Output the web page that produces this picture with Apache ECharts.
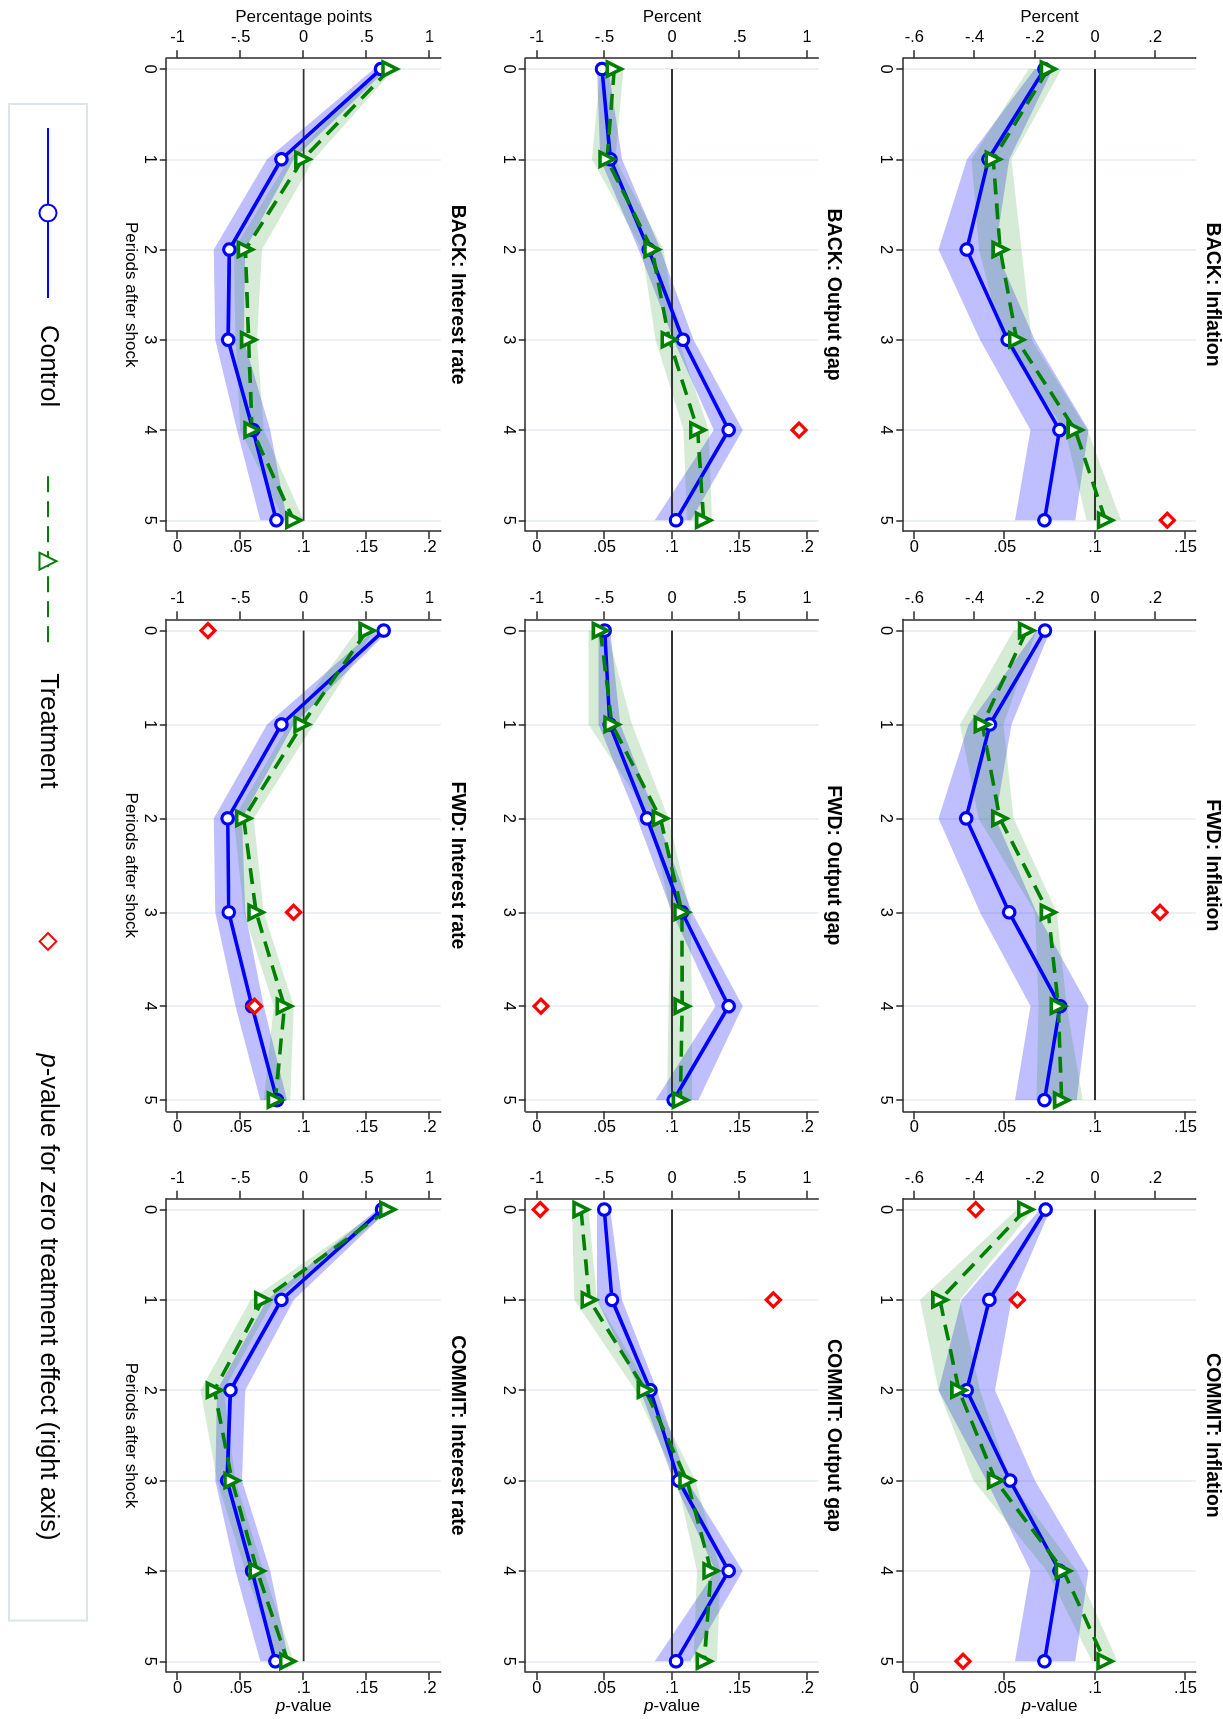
<!DOCTYPE html>
<html>
<head>
<meta charset="utf-8">
<script src="https://cdn.jsdelivr.net/npm/echarts@6/dist/echarts.min.js"></script>
<style>
html,body{margin:0;padding:0;background:#fff;overflow:hidden;width:1223px;height:1719px;}
#wrap{position:absolute;left:0;top:0;width:1719px;height:1223px;transform-origin:0 0;transform:translate(1223px,0) rotate(90deg);background:#fff;}
</style>
</head>
<body>
<div id="wrap"></div>
<script>
// ---------------- DATA ----------------
const periods = [0, 1, 2, 3, 4, 5];
const periodTicks = [0, 1, 2, 3, 4, 5];
const inflTicks = [-0.6, -0.4, -0.2, 0, 0.2];
const inflPTicks = [0, 0.05, 0.1, 0.15];
const wideTicks = [-1, -0.5, 0, 0.5, 1];
const widePTicks = [0, 0.05, 0.1, 0.15, 0.2];
const regimes = ['BACK', 'FWD', 'COMMIT'];
const variables = ['Inflation', 'Output gap', 'Interest rate'];
const seriesNames = ['Control', 'Treatment', 'p-value for zero treatment effect (right axis)'];

// BACK: Inflation
const backInflCtrl    = [-0.168, -0.354, -0.426, -0.290, -0.118, -0.168];
const backInflCtrlLo  = [-0.200, -0.425, -0.520, -0.382, -0.214, -0.266];
const backInflCtrlHi  = [-0.140, -0.285, -0.330, -0.200, -0.022, -0.066];
const backInflTreat   = [-0.155, -0.338, -0.315, -0.260, -0.066, 0.035];
const backInflTreatLo = [-0.221, -0.410, -0.385, -0.310, -0.100, -0.028];
const backInflTreatHi = [-0.111, -0.277, -0.244, -0.210, -0.025, 0.086];
const backInflPval    = [null, null, null, null, null, 0.140];
// BACK: Output gap
const backOutCtrl     = [-0.518, -0.456, -0.173, 0.081, 0.419, 0.030];
const backOutCtrlLo   = [-0.555, -0.530, -0.247, 0.012, 0.308, -0.128];
const backOutCtrlHi   = [-0.469, -0.370, -0.086, 0.160, 0.523, 0.141];
const backOutTreat    = [-0.427, -0.481, -0.148, -0.020, 0.190, 0.234];
const backOutTreatLo  = [-0.530, -0.592, -0.222, -0.123, 0.086, 0.111];
const backOutTreatHi  = [-0.358, -0.419, -0.062, 0.049, 0.271, 0.296];
const backOutPval     = [null, null, null, null, 0.194, null];
// BACK: Interest rate
const backIntCtrl     = [0.614, -0.177, -0.590, -0.600, -0.402, -0.217];
const backIntCtrlLo   = [0.556, -0.291, -0.714, -0.701, -0.529, -0.344];
const backIntCtrlHi   = [0.661, -0.079, -0.463, -0.476, -0.265, -0.132];
const backIntTreat    = [0.685, -0.008, -0.463, -0.437, -0.410, -0.079];
const backIntTreatLo  = [0.600, -0.119, -0.556, -0.542, -0.503, -0.159];
const backIntTreatHi  = [0.720, 0.079, -0.331, -0.370, -0.317, 0.000];
const backIntPval     = [null, null, null, null, null, null];
// FWD: Inflation
const fwdInflCtrl     = [-0.166, -0.349, -0.428, -0.285, -0.116, -0.168];
const fwdInflCtrlLo   = [-0.194, -0.420, -0.520, -0.382, -0.214, -0.266];
const fwdInflCtrlHi   = [-0.149, -0.277, -0.330, -0.194, -0.022, -0.061];
const fwdInflTreat    = [-0.227, -0.374, -0.316, -0.155, -0.122, -0.111];
const fwdInflTreatLo  = [-0.271, -0.448, -0.387, -0.199, -0.188, -0.194];
const fwdInflTreatHi  = [-0.194, -0.304, -0.271, -0.127, -0.094, -0.041];
const fwdInflPval     = [null, null, null, 0.136, null, null];
// FWD: Output gap
const fwdOutCtrl      = [-0.498, -0.461, -0.185, 0.074, 0.419, 0.012];
const fwdOutCtrlLo    = [-0.543, -0.543, -0.259, 0.000, 0.321, -0.123];
const fwdOutCtrlHi    = [-0.456, -0.382, -0.111, 0.148, 0.523, 0.197];
const fwdOutTreat     = [-0.530, -0.444, -0.086, 0.074, 0.075, 0.062];
const fwdOutTreatLo   = [-0.617, -0.617, -0.160, -0.012, -0.025, -0.037];
const fwdOutTreatHi   = [-0.481, -0.296, -0.025, 0.136, 0.148, 0.148];
const fwdOutPval      = [null, null, null, null, 0.003, null];
// FWD: Interest rate
const fwdIntCtrl      = [0.635, -0.177, -0.603, -0.595, -0.410, -0.212];
const fwdIntCtrlLo    = [0.556, -0.291, -0.714, -0.701, -0.542, -0.344];
const fwdIntCtrlHi    = [0.675, -0.079, -0.489, -0.463, -0.317, -0.132];
const fwdIntTreat     = [0.503, -0.013, -0.476, -0.378, -0.153, -0.225];
const fwdIntTreatLo   = [0.423, -0.119, -0.556, -0.476, -0.238, -0.317];
const fwdIntTreatHi   = [0.556, 0.079, -0.397, -0.317, -0.079, -0.106];
const fwdIntPval      = [0.024, null, null, 0.092, 0.061, null];
// COMMIT: Inflation
const comInflCtrl     = [-0.164, -0.351, -0.426, -0.282, -0.118, -0.168];
const comInflCtrlLo   = [-0.183, -0.443, -0.520, -0.360, -0.214, -0.266];
const comInflCtrlHi   = [-0.149, -0.277, -0.332, -0.199, -0.022, -0.066];
const comInflTreat    = [-0.230, -0.515, -0.452, -0.330, -0.105, 0.033];
const comInflTreatLo  = [-0.260, -0.581, -0.520, -0.404, -0.160, -0.011];
const comInflTreatHi  = [-0.205, -0.448, -0.382, -0.282, -0.060, 0.075];
const comInflPval     = [0.034, 0.057, null, null, null, 0.027];
// COMMIT: Output gap
const comOutCtrl      = [-0.501, -0.444, -0.160, 0.049, 0.419, 0.030];
const comOutCtrlLo    = [-0.555, -0.555, -0.234, 0.012, 0.321, -0.128];
const comOutCtrlHi    = [-0.456, -0.370, -0.111, 0.111, 0.523, 0.136];
const comOutTreat     = [-0.673, -0.612, -0.197, 0.111, 0.289, 0.239];
const comOutTreatLo   = [-0.740, -0.723, -0.271, 0.037, 0.185, 0.160];
const comOutTreatHi   = [-0.617, -0.555, -0.160, 0.173, 0.358, 0.333];
const comOutPval      = [0.0025, 0.175, null, null, null, null];
// COMMIT: Interest rate
const comIntCtrl      = [0.622, -0.177, -0.582, -0.608, -0.410, -0.225];
const comIntCtrlLo    = [0.582, -0.291, -0.688, -0.701, -0.542, -0.344];
const comIntCtrlHi    = [0.675, -0.079, -0.463, -0.489, -0.265, -0.119];
const comIntTreat     = [0.667, -0.325, -0.709, -0.569, -0.370, -0.127];
const comIntTreatLo   = [0.608, -0.423, -0.820, -0.688, -0.463, -0.212];
const comIntTreatHi   = [0.701, -0.238, -0.635, -0.542, -0.317, -0.079];
const comIntPval      = [null, null, null, null, null, null];

// ---------------- LAYOUT / STYLE ----------------
const FONT = 'Liberation Sans, Arial, Helvetica, sans-serif';
const colLeft = [58.2, 619.3, 1198.7];
const colWidth = [472.9, 492.1, 473.4];
const rowTop = [27.3, 404.7, 782.3];
const rowHeight = [292.4, 292.6, 274];
const titleY = [11, 390, 766];
const BLUE = '#0000FF', GREEN = '#008000', RED = '#FF0000';
const AXIS_COLOR = '#2b2b2b';

const varSpec = [
  { vmin: -0.6365, vmax: 0.3343, ticks: inflTicks, pTicks: inflPTicks, toP: v => (v + 0.6) / 6, unit: 'Percent' },
  { vmin: -1.0825, vmax: 1.0825, ticks: wideTicks, pTicks: widePTicks, toP: v => (v + 1) / 10, unit: 'Percent' },
  { vmin: -1.0873, vmax: 1.0873, ticks: wideTicks, pTicks: widePTicks, toP: v => (v + 1) / 10, unit: 'Percentage points' }
];

const panelData = [
  [
    { c: backInflCtrl, cl: backInflCtrlLo, ch: backInflCtrlHi, t: backInflTreat, tl: backInflTreatLo, th: backInflTreatHi, p: backInflPval },
    { c: fwdInflCtrl, cl: fwdInflCtrlLo, ch: fwdInflCtrlHi, t: fwdInflTreat, tl: fwdInflTreatLo, th: fwdInflTreatHi, p: fwdInflPval },
    { c: comInflCtrl, cl: comInflCtrlLo, ch: comInflCtrlHi, t: comInflTreat, tl: comInflTreatLo, th: comInflTreatHi, p: comInflPval }
  ],
  [
    { c: backOutCtrl, cl: backOutCtrlLo, ch: backOutCtrlHi, t: backOutTreat, tl: backOutTreatLo, th: backOutTreatHi, p: backOutPval },
    { c: fwdOutCtrl, cl: fwdOutCtrlLo, ch: fwdOutCtrlHi, t: fwdOutTreat, tl: fwdOutTreatLo, th: fwdOutTreatHi, p: fwdOutPval },
    { c: comOutCtrl, cl: comOutCtrlLo, ch: comOutCtrlHi, t: comOutTreat, tl: comOutTreatLo, th: comOutTreatHi, p: comOutPval }
  ],
  [
    { c: backIntCtrl, cl: backIntCtrlLo, ch: backIntCtrlHi, t: backIntTreat, tl: backIntTreatLo, th: backIntTreatHi, p: backIntPval },
    { c: fwdIntCtrl, cl: fwdIntCtrlLo, ch: fwdIntCtrlHi, t: fwdIntTreat, tl: fwdIntTreatLo, th: fwdIntTreatHi, p: fwdIntPval },
    { c: comIntCtrl, cl: comIntCtrlLo, ch: comIntCtrlHi, t: comIntTreat, tl: comIntTreatLo, th: comIntTreatHi, p: comIntPval }
  ]
];

function stataFmt(v) {
  const r = Math.round(v * 1000) / 1000;
  if (r === 0) return '0';
  return String(r).replace(/^(-?)0\./, '$1.');
}

function bandSeries(gi, yIdx, lo, hi, color) {
  return {
    type: 'custom', xAxisIndex: gi, yAxisIndex: yIdx, silent: true,
    data: periods.map((t, k) => [t, lo[k], hi[k]]),
    encode: { x: 0, y: [1, 2] },
    renderItem: (params, api) => {
      if (params.dataIndex !== 0) return null;
      const upper = periods.map((t, k) => api.coord([t, hi[k]]));
      const lower = periods.map((t, k) => api.coord([t, lo[k]])).reverse();
      return { type: 'polygon', shape: { points: upper.concat(lower) }, style: { fill: color, stroke: null } };
    }
  };
}

const grids = [], xAxes = [], yAxes = [], series = [], titles = [];
const axisLineStyle = { color: AXIS_COLOR, width: 1.5 };
let gi = 0;
for (let r = 0; r < 3; r++) {
  for (let c = 0; c < 3; c++) {
    const spec = varSpec[r];
    const d = panelData[r][c];
    grids.push({ left: colLeft[c], top: rowTop[r], width: colWidth[c], height: rowHeight[r] });
    titles.push({
      text: regimes[c] + ': ' + variables[r],
      left: colLeft[c] + colWidth[c] / 2, top: titleY[r],
      textAlign: 'center', textVerticalAlign: 'middle', padding: 0,
      textStyle: { fontSize: 19.5, fontWeight: 'bold', color: '#000', fontFamily: FONT }
    });
    xAxes.push({
      gridIndex: gi, type: 'value', position: 'bottom', min: -0.12, max: 5.12,
      axisLine: { show: true, onZero: false, lineStyle: axisLineStyle },
      axisTick: { show: true, customValues: periodTicks, length: 7, lineStyle: axisLineStyle },
      axisLabel: { customValues: periodTicks, margin: 9, fontSize: 16.5, color: '#000', fontFamily: FONT, formatter: v => String(v) },
      splitLine: { show: true, lineStyle: { color: '#E6EEF0', width: 1.5 } },
      name: r === 2 ? 'Periods after shock' : '', nameLocation: 'middle', nameGap: 28,
      nameTextStyle: { fontSize: 17, color: '#000', fontFamily: FONT }
    });
    yAxes.push({
      gridIndex: gi, type: 'value', position: 'left', min: spec.vmin, max: spec.vmax,
      axisLine: { show: true, onZero: false, lineStyle: axisLineStyle },
      axisTick: { show: true, customValues: spec.ticks, length: 8, lineStyle: axisLineStyle },
      axisLabel: { customValues: spec.ticks, rotate: 90, margin: 12, fontSize: 16.5, color: '#000', fontFamily: FONT, formatter: stataFmt },
      splitLine: { show: false },
      name: c === 0 ? spec.unit : '', nameLocation: 'middle', nameRotate: 90, nameGap: 32,
      nameTextStyle: { fontSize: 17, color: '#000', fontFamily: FONT }
    });
    yAxes.push({
      gridIndex: gi, type: 'value', position: 'right', min: spec.toP(spec.vmin), max: spec.toP(spec.vmax),
      axisLine: { show: true, onZero: false, lineStyle: axisLineStyle },
      axisTick: { show: true, customValues: spec.pTicks, length: 8, lineStyle: axisLineStyle },
      axisLabel: { customValues: spec.pTicks, rotate: 90, margin: 8, fontSize: 16.5, color: '#000', fontFamily: FONT, formatter: stataFmt },
      splitLine: { show: false },
      name: c === 2 ? '{i|p}-value' : '', nameLocation: 'middle', nameRotate: 90, nameGap: 26,
      nameTextStyle: { fontSize: 17, color: '#000', fontFamily: FONT,
        rich: { i: { fontStyle: 'italic', fontSize: 17, color: '#000', fontFamily: FONT } } }
    });
    const yL = 2 * gi, yR = 2 * gi + 1;
    // zero reference line across the plotted periods
    series.push({
      type: 'line', xAxisIndex: gi, yAxisIndex: yL, silent: true, symbol: 'none',
      data: [[periods[0], 0], [periods[periods.length - 1], 0]],
      lineStyle: { color: '#333', width: 1.8 }, itemStyle: { color: '#333' }
    });
    series.push(bandSeries(gi, yL, d.cl, d.ch, 'rgba(0,0,255,0.25)'));
    series.push({
      name: 'Control', type: 'line', xAxisIndex: gi, yAxisIndex: yL,
      data: periods.map((t, k) => [t, d.c[k]]),
      symbol: 'circle', symbolSize: 11.5,
      lineStyle: { color: BLUE, width: 3.6 },
      itemStyle: { color: '#fff', borderColor: BLUE, borderWidth: 3.2 },
      emphasis: { disabled: true }
    });
    series.push(bandSeries(gi, yL, d.tl, d.th, 'rgba(0,128,0,0.16)'));
    series.push({
      name: 'Treatment', type: 'line', xAxisIndex: gi, yAxisIndex: yL,
      data: periods.map((t, k) => [t, d.t[k]]),
      symbol: 'triangle', symbolSize: 14,
      lineStyle: { color: GREEN, width: 3.6, type: [16, 9] },
      itemStyle: { color: '#fff', borderColor: GREEN, borderWidth: 3.6 },
      emphasis: { disabled: true }
    });
    series.push({
      name: seriesNames[2], type: 'line', xAxisIndex: gi, yAxisIndex: yR,
      data: periods.map((t, k) => d.p[k] == null ? null : [t, d.p[k]]).filter(x => x),
      symbol: 'diamond', symbolSize: 14, showAllSymbol: true,
      lineStyle: { width: 0, opacity: 0 },
      itemStyle: { color: '#fff', borderColor: RED, borderWidth: 3.2 },
      emphasis: { disabled: true }
    });
    gi++;
  }
}

const chart = echarts.init(document.getElementById('wrap'), null, { renderer: 'canvas' });
chart.setOption({
  animation: false,
  backgroundColor: '#fff',
  title: titles,
  grid: grids,
  xAxis: xAxes,
  yAxis: yAxes,
  legend: {
    data: seriesNames, selectedMode: false,
    left: 104, top: 1136, orient: 'horizontal',
    itemWidth: 170, itemHeight: 21, itemGap: 68,
    padding: [26, 80, 26, 23],
    borderColor: '#DCE6EA', borderWidth: 2, backgroundColor: '#fff',
    formatter: name => name.indexOf('p-value') === 0 ? '{i|p}' + name.slice(1) : name,
    textStyle: {
      fontSize: 25.5, color: '#000', fontFamily: FONT, padding: [0, 0, 0, 22],
      rich: { i: { fontStyle: 'italic', fontSize: 25.5, color: '#000', fontFamily: FONT } }
    }
  },
  series: series
});
</script>
</body>
</html>
